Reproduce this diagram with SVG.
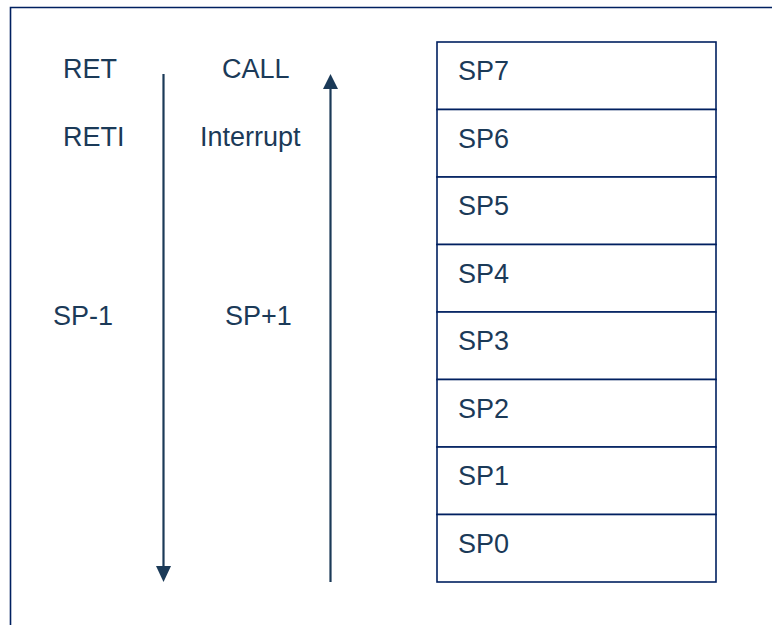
<svg xmlns="http://www.w3.org/2000/svg" width="772" height="625" viewBox="0 0 772 625">
<style>
text{font-family:"Liberation Sans",Arial,sans-serif;font-size:27px;fill:#1b3a58}
.box{fill:#fff;stroke:#002060;stroke-width:1.6}
.ln{stroke:#1b3a58;stroke-width:2.2;fill:none}
.hd{fill:#1b3a58}
</style>
<rect width="772" height="625" fill="#fff"/>
<path d="M10.5,625 V7.5 H772" fill="none" stroke="#002060" stroke-width="1.6"/>
<g id="labels">
<text x="63" y="78">RET</text>
<text x="222" y="78">CALL</text>
<text x="63" y="146">RETI</text>
<text x="200" y="146">Interrupt</text>
<text x="53" y="325">SP-1</text>
<text x="225" y="325">SP+1</text>
</g>
<g id="connectors">
<line class="ln" x1="163.5" y1="74" x2="163.5" y2="567"/>
<path class="hd" d="M156,566 L171,566 L163.5,582 Z"/>
<line class="ln" x1="330.5" y1="582" x2="330.5" y2="88"/>
<path class="hd" d="M323,89 L338,89 L330.5,74 Z"/>
</g>
<g id="sp7"><rect class="box" x="437" y="42" width="279" height="67.5"/><text x="458" y="80">SP7</text></g>
<g id="sp6"><rect class="box" x="437" y="109.5" width="279" height="67.5"/><text x="458" y="147.5">SP6</text></g>
<g id="sp5"><rect class="box" x="437" y="177" width="279" height="67.5"/><text x="458" y="215">SP5</text></g>
<g id="sp4"><rect class="box" x="437" y="244.5" width="279" height="67.5"/><text x="458" y="282.5">SP4</text></g>
<g id="sp3"><rect class="box" x="437" y="312" width="279" height="67.5"/><text x="458" y="350">SP3</text></g>
<g id="sp2"><rect class="box" x="437" y="379.5" width="279" height="67.5"/><text x="458" y="417.5">SP2</text></g>
<g id="sp1"><rect class="box" x="437" y="447" width="279" height="67.5"/><text x="458" y="485">SP1</text></g>
<g id="sp0"><rect class="box" x="437" y="514.5" width="279" height="67.5"/><text x="458" y="552.5">SP0</text></g>
</svg>
